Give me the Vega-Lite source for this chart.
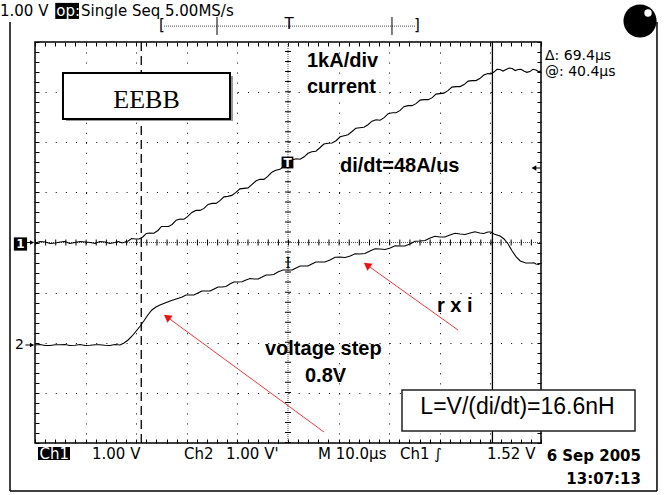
{
 "$schema": "https://vega.github.io/schema/vega-lite/v6.json",
 "width": 506, "height": 401,
 "autosize": {"type": "none"},
 "padding": {"left": 35, "top": 42, "right": 126, "bottom": 52},
 "background": "white",
 "config": {"view": {"stroke": "black", "strokeWidth": 1.5, "fill": "white"}},
 "data": {"values": [{}]},
 "datasets": {
  "ch1": [{"t":-50.0,"v":-0.01},{"t":-49.0,"v":0.02},{"t":-48.0,"v":0.01},{"t":-47.0,"v":-0.02},{"t":-46.0,"v":-0.01},{"t":-45.0,"v":0.01},{"t":-44.1,"v":0.02},{"t":-43.1,"v":-0.02},{"t":-42.1,"v":0.0},{"t":-41.1,"v":0.02},{"t":-40.1,"v":0.01},{"t":-39.1,"v":0.0},{"t":-38.1,"v":-0.02},{"t":-37.2,"v":0.02},{"t":-36.2,"v":0.01},{"t":-35.2,"v":-0.02},{"t":-34.2,"v":0.0},{"t":-33.5,"v":0.02},{"t":-32.8,"v":-0.01},{"t":-31.6,"v":0.03},{"t":-30.9,"v":0.08},{"t":-30.2,"v":0.07},{"t":-29.45,"v":0.07},{"t":-28.7,"v":0.11},{"t":-28.0,"v":0.18},{"t":-27.3,"v":0.19},{"t":-26.5,"v":0.185},{"t":-25.7,"v":0.24},{"t":-25.0,"v":0.32},{"t":-24.3,"v":0.32},{"t":-23.6,"v":0.32},{"t":-22.9,"v":0.36},{"t":-22.1,"v":0.445},{"t":-21.3,"v":0.47},{"t":-20.55,"v":0.465},{"t":-19.8,"v":0.52},{"t":-19.0,"v":0.60},{"t":-18.2,"v":0.64},{"t":-17.4,"v":0.64},{"t":-16.6,"v":0.68},{"t":-15.8,"v":0.76},{"t":-15.0,"v":0.78},{"t":-14.2,"v":0.78},{"t":-13.4,"v":0.84},{"t":-12.65,"v":0.91},{"t":-11.9,"v":0.92},{"t":-11.1,"v":0.94},{"t":-10.3,"v":1.0},{"t":-9.5,"v":1.07},{"t":-8.7,"v":1.08},{"t":-7.9,"v":1.09},{"t":-7.1,"v":1.16},{"t":-6.3,"v":1.23},{"t":-5.5,"v":1.26},{"t":-4.75,"v":1.26},{"t":-4.0,"v":1.32},{"t":-3.2,"v":1.40},{"t":-2.4,"v":1.44},{"t":-1.6,"v":1.46},{"t":-0.8,"v":1.52},{"t":0.0,"v":1.58},{"t":0.8,"v":1.645},{"t":1.6,"v":1.67},{"t":2.4,"v":1.66},{"t":3.2,"v":1.71},{"t":3.95,"v":1.78},{"t":4.7,"v":1.81},{"t":5.5,"v":1.82},{"t":6.3,"v":1.89},{"t":7.1,"v":1.965},{"t":7.9,"v":1.98},{"t":8.7,"v":1.985},{"t":9.5,"v":2.03},{"t":10.3,"v":2.11},{"t":11.1,"v":2.13},{"t":11.85,"v":2.15},{"t":12.6,"v":2.21},{"t":13.4,"v":2.28},{"t":14.2,"v":2.29},{"t":15.0,"v":2.30},{"t":15.8,"v":2.35},{"t":16.6,"v":2.42},{"t":17.4,"v":2.45},{"t":18.2,"v":2.44},{"t":19.0,"v":2.49},{"t":19.8,"v":2.57},{"t":20.6,"v":2.59},{"t":21.35,"v":2.59},{"t":22.1,"v":2.63},{"t":22.9,"v":2.71},{"t":23.7,"v":2.73},{"t":24.5,"v":2.73},{"t":25.3,"v":2.77},{"t":26.1,"v":2.84},{"t":26.9,"v":2.85},{"t":27.7,"v":2.85},{"t":28.5,"v":2.89},{"t":29.25,"v":2.96},{"t":30.0,"v":2.97},{"t":30.8,"v":2.98},{"t":31.6,"v":3.03},{"t":32.4,"v":3.10},{"t":33.2,"v":3.11},{"t":34.0,"v":3.11},{"t":34.8,"v":3.15},{"t":35.6,"v":3.22},{"t":36.4,"v":3.23},{"t":37.15,"v":3.23},{"t":37.9,"v":3.27},{"t":38.7,"v":3.34},{"t":39.5,"v":3.37},{"t":40.1,"v":3.365},{"t":40.7,"v":3.40},{"t":41.3,"v":3.455},{"t":41.9,"v":3.45},{"t":42.5,"v":3.42},{"t":43.1,"v":3.45},{"t":43.7,"v":3.48},{"t":44.3,"v":3.47},{"t":44.9,"v":3.43},{"t":45.5,"v":3.45},{"t":46.05,"v":3.455},{"t":46.6,"v":3.42},{"t":47.2,"v":3.395},{"t":47.8,"v":3.41},{"t":48.4,"v":3.455},{"t":49.0,"v":3.44},{"t":49.5,"v":3.41},{"t":50.0,"v":3.42}],
  "ch2": [{"t":-50.0,"v":-2.045},{"t":-49.0,"v":-2.035},{"t":-48.0,"v":-2.055},{"t":-47.0,"v":-2.055},{"t":-46.0,"v":-2.04},{"t":-45.0,"v":-2.04},{"t":-44.1,"v":-2.035},{"t":-43.1,"v":-2.055},{"t":-42.1,"v":-2.05},{"t":-41.1,"v":-2.035},{"t":-40.1,"v":-2.055},{"t":-39.1,"v":-2.05},{"t":-38.1,"v":-2.04},{"t":-37.2,"v":-2.04},{"t":-36.2,"v":-2.05},{"t":-35.2,"v":-2.055},{"t":-34.2,"v":-2.035},{"t":-33.2,"v":-2.045},{"t":-32.4,"v":-2.005},{"t":-31.6,"v":-1.945},{"t":-30.8,"v":-1.865},{"t":-30.0,"v":-1.766},{"t":-29.2,"v":-1.666},{"t":-28.5,"v":-1.566},{"t":-27.7,"v":-1.446},{"t":-26.9,"v":-1.347},{"t":-26.1,"v":-1.287},{"t":-25.3,"v":-1.247},{"t":-24.3,"v":-1.207},{"t":-23.3,"v":-1.167},{"t":-22.1,"v":-1.127},{"t":-20.9,"v":-1.087},{"t":-20.15,"v":-1.047},{"t":-19.4,"v":-1.047},{"t":-18.6,"v":-1.047},{"t":-17.8,"v":-1.007},{"t":-17.0,"v":-0.968},{"t":-16.2,"v":-0.968},{"t":-15.4,"v":-0.968},{"t":-14.6,"v":-0.928},{"t":-13.8,"v":-0.888},{"t":-13.0,"v":-0.888},{"t":-12.25,"v":-0.878},{"t":-11.5,"v":-0.828},{"t":-10.7,"v":-0.788},{"t":-9.9,"v":-0.788},{"t":-9.1,"v":-0.783},{"t":-8.3,"v":-0.748},{"t":-7.5,"v":-0.718},{"t":-6.7,"v":-0.728},{"t":-5.9,"v":-0.728},{"t":-5.1,"v":-0.688},{"t":-4.35,"v":-0.648},{"t":-3.6,"v":-0.648},{"t":-2.8,"v":-0.639},{"t":-2.0,"v":-0.589},{"t":-1.0,"v":-0.549},{"t":0.0,"v":-0.549},{"t":0.8,"v":-0.549},{"t":1.6,"v":-0.509},{"t":2.4,"v":-0.469},{"t":3.2,"v":-0.469},{"t":3.95,"v":-0.469},{"t":4.7,"v":-0.429},{"t":5.5,"v":-0.389},{"t":6.3,"v":-0.389},{"t":7.3,"v":-0.389},{"t":8.3,"v":-0.349},{"t":9.3,"v":-0.294},{"t":10.3,"v":-0.289},{"t":11.3,"v":-0.299},{"t":12.3,"v":-0.269},{"t":13.25,"v":-0.224},{"t":14.2,"v":-0.229},{"t":15.2,"v":-0.22},{"t":16.2,"v":-0.170},{"t":17.2,"v":-0.125},{"t":18.2,"v":-0.130},{"t":19.2,"v":-0.14},{"t":20.2,"v":-0.110},{"t":21.15,"v":-0.065},{"t":22.1,"v":-0.070},{"t":23.1,"v":-0.07},{"t":24.1,"v":-0.030},{"t":25.1,"v":0.025},{"t":26.1,"v":0.030},{"t":27.1,"v":0.04},{"t":28.1,"v":0.090},{"t":29.05,"v":0.125},{"t":30.0,"v":0.110},{"t":31.0,"v":0.11},{"t":32.0,"v":0.150},{"t":33.0,"v":0.185},{"t":34.0,"v":0.170},{"t":35.0,"v":0.16},{"t":36.0,"v":0.190},{"t":36.95,"v":0.215},{"t":37.9,"v":0.19},{"t":38.7,"v":0.18},{"t":39.5,"v":0.209},{"t":40.1,"v":0.21},{"t":40.7,"v":0.17},{"t":41.9,"v":0.13},{"t":42.7,"v":0.07},{"t":43.5,"v":-0.03},{"t":44.3,"v":-0.17},{"t":45.1,"v":-0.289},{"t":45.9,"v":-0.369},{"t":47.0,"v":-0.409},{"t":48.2,"v":-0.409},{"t":48.6,"v":-0.404},{"t":49.0,"v":-0.429},{"t":49.5,"v":-0.439},{"t":50.0,"v":-0.409}],
  "scopeText": [{"label":"1.00 V","t":-56.92,"v":4.62},{"label":"Single Seq","t":-40.91,"v":4.62},{"label":"5.00MS/s","t":-24.31,"v":4.62},{"label":"1.00 V","t":-38.74,"v":-4.21},{"label":"Ch2","t":-20.55,"v":-4.21},{"label":"1.00 V'","t":-12.25,"v":-4.21},{"label":"M 10.0µs","t":5.93,"v":-4.21},{"label":"Ch1 ∫","t":22.13,"v":-4.21},{"label":"1.52 V","t":39.33,"v":-4.21}],
  "cursorText": [{"label":"Δ: 69.4µs","t":50.79,"v":3.73},{"label":"@: 40.4µs","t":50.79,"v":3.41}],
  "dateText": [{"label":"6 Sep 2005","t":69.76,"v":-4.26},{"label":"13:07:13","t":69.76,"v":-4.72}],
  "boldText": [{"label":"1kA/div","t":3.75,"v":3.501},{"label":"current","t":3.75,"v":2.983},{"label":"di/dt=48A/us","t":10.28,"v":1.406},{"label":"r x i","t":29.45,"v":-1.387},{"label":"voltage step","t":-4.55,"v":-2.244},{"label":"0.8V","t":3.36,"v":-2.783}],
  "redLines": [{"t":7.11,"v":-3.781,"t2":-23.91,"v2":-1.486},{"t":33.6,"v":-1.746,"t2":15.61,"v2":-0.449}],
  "redHeads": [{"t":-23.91,"v":-1.486},{"t":15.61,"v":-0.449}],
  "frame": [{"t":-54.94,"v":4.40,"t2":-54.94,"v2":-4.96},{"t":-54.94,"v":-4.96,"t2":72.92,"v2":-4.96},{"t":72.92,"v":4.40,"t2":72.92,"v2":-4.96}],
  "blackBoxes": [{"t":-46.0,"t2":-41.3,"v":4.78,"v2":4.46},{"t":-49.41,"t2":-43.08,"v":-4.08,"v2":-4.34}],
  "whiteText": [{"label":"op:","t":-45.8,"v":4.62},{"label":"Ch1","t":-49.1,"v":-4.21}]
 },
 "resolve": {"axis": {"x": "independent", "y": "independent"}},
 "layer": [
  {"data": {"values": [{"t":0,"v":-4,"v2":4}]}, "mark": {"type":"rule","color":"#555","strokeDash":[1,1],"strokeWidth":1},
   "encoding": {"x":{"field":"t","type":"quantitative","axis":null},"y":{"field":"v","type":"quantitative","axis":null},"y2":{"field":"v2"}}},
  {"data": {"values": [{"t":0,"v":-4,"v2":4}]}, "mark": {"type":"rule","color":"black","strokeDash":[1,9.025],"strokeWidth":6},
   "encoding": {"x":{"field":"t","type":"quantitative","axis":null},"y":{"field":"v","type":"quantitative","axis":null},"y2":{"field":"v2"}}},
  {"data": {"values": [{"t":-50,"t2":50,"v":0}]}, "mark": {"type":"rule","color":"#555","strokeDash":[1,1],"strokeWidth":1},
   "encoding": {"x":{"field":"t","type":"quantitative","axis":null},"x2":{"field":"t2"},"y":{"field":"v","type":"quantitative","axis":null}}},
  {"data": {"values": [{"t":-50,"t2":50,"v":0}]}, "mark": {"type":"rule","color":"black","strokeDash":[1,9.12],"strokeWidth":6},
   "encoding": {"x":{"field":"t","type":"quantitative","axis":null},"x2":{"field":"t2"},"y":{"field":"v","type":"quantitative","axis":null}}},
  {"data": {"values": [{"t":-29.0,"v":-4,"v2":4}]}, "mark": {"type":"rule","color":"black","strokeDash":[9,5],"strokeWidth":1.3},
   "encoding": {"x":{"field":"t","type":"quantitative","axis":null},"y":{"field":"v","type":"quantitative","axis":null},"y2":{"field":"v2"}}},
  {"data": {"values": [{"t":40.4,"v":-4,"v2":4}]}, "mark": {"type":"rule","color":"black","strokeWidth":1.3},
   "encoding": {"x":{"field":"t","type":"quantitative","axis":null},"y":{"field":"v","type":"quantitative","axis":null},"y2":{"field":"v2"}}},
  {"data": {"name": "ch1"}, "mark": {"type":"line","color":"black","strokeWidth":1.1},
   "encoding": {
    "x":{"field":"t","type":"quantitative","scale":{"domain":[-50,50],"nice":false,"zero":false},
     "axis":{"orient":"bottom","values":[-50,-48,-46,-44,-42,-40,-38,-36,-34,-32,-30,-28,-26,-24,-22,-20,-18,-16,-14,-12,-10,-8,-6,-4,-2,0,2,4,6,8,10,12,14,16,18,20,22,24,26,28,30,32,34,36,38,40,42,44,46,48,50],
      "grid":true,"gridColor":"black","gridWidth":1,"gridDash":[1,9.025],
      "gridOpacity":{"condition":{"test":"abs(datum.value % 10) < 0.001 && datum.value !== 0 && abs(datum.value) < 49","value":1},"value":0},
      "ticks":true,"tickSize":-4,"tickColor":"black","tickWidth":1,"labels":false,"domain":false,"title":null}},
    "y":{"field":"v","type":"quantitative","scale":{"domain":[-4,4],"nice":false,"zero":false},
     "axis":{"orient":"left","values":[-4,-3.8,-3.6,-3.4,-3.2,-3,-2.8,-2.6,-2.4,-2.2,-2,-1.8,-1.6,-1.4,-1.2,-1,-0.8,-0.6,-0.4,-0.2,0,0.2,0.4,0.6,0.8,1,1.2,1.4,1.6,1.8,2,2.2,2.4,2.6,2.8,3,3.2,3.4,3.6,3.8,4],
      "grid":true,"gridColor":"black","gridWidth":1,"gridDash":[1,9.12],
      "gridOpacity":{"condition":{"test":"abs(datum.value - round(datum.value)) < 0.001 && datum.value !== 0 && abs(datum.value) < 3.9","value":1},"value":0},
      "ticks":true,"tickSize":-4,"tickColor":"black","tickWidth":1,"labels":false,"domain":false,"title":null}}}},
  {"data": {"name": "ch2"}, "mark": {"type":"line","color":"black","strokeWidth":1.1},
   "encoding": {
    "x":{"field":"t","type":"quantitative",
     "axis":{"orient":"top","values":[-50,-48,-46,-44,-42,-40,-38,-36,-34,-32,-30,-28,-26,-24,-22,-20,-18,-16,-14,-12,-10,-8,-6,-4,-2,0,2,4,6,8,10,12,14,16,18,20,22,24,26,28,30,32,34,36,38,40,42,44,46,48,50],
      "grid":false,"ticks":true,"tickSize":-4,"tickColor":"black","tickWidth":1,"labels":false,"domain":false,"title":null}},
    "y":{"field":"v","type":"quantitative",
     "axis":{"orient":"right","values":[-4,-3.8,-3.6,-3.4,-3.2,-3,-2.8,-2.6,-2.4,-2.2,-2,-1.8,-1.6,-1.4,-1.2,-1,-0.8,-0.6,-0.4,-0.2,0,0.2,0.4,0.6,0.8,1,1.2,1.4,1.6,1.8,2,2.2,2.4,2.6,2.8,3,3.2,3.4,3.6,3.8,4],
      "grid":false,"ticks":true,"tickSize":-4,"tickColor":"black","tickWidth":1,"labels":false,"domain":false,"title":null}}}},
  {"data": {"values": [{"t":-43.87,"t2":-10.87,"v":3.322,"v2":2.424}]}, "mark": {"type":"rect","fill":"#999999"},
   "encoding": {"x":{"field":"t","type":"quantitative","axis":null},"x2":{"field":"t2"},"y":{"field":"v","type":"quantitative","axis":null},"y2":{"field":"v2"}}},
  {"data": {"values": [{"t":-44.47,"t2":-11.46,"v":3.382,"v2":2.464}]}, "mark": {"type":"rect","fill":"white","stroke":"black","strokeWidth":2},
   "encoding": {"x":{"field":"t","type":"quantitative","axis":null},"x2":{"field":"t2"},"y":{"field":"v","type":"quantitative","axis":null},"y2":{"field":"v2"}}},
  {"data": {"values": [{"t":22.53,"t2":68.58,"v":-2.943,"v2":-3.761}]}, "mark": {"type":"rect","fill":"white","stroke":"#222","strokeWidth":1.5},
   "encoding": {"x":{"field":"t","type":"quantitative","axis":null},"x2":{"field":"t2"},"y":{"field":"v","type":"quantitative","axis":null},"y2":{"field":"v2"}}},
  {"data": {"values": [{"label":"EEBB","t":-27.96,"v":2.683}]}, "mark": {"type":"text","font":"Liberation Serif","fontSize":26,"align":"center","baseline":"alphabetic","color":"black"},
   "encoding": {"x":{"field":"t","type":"quantitative","axis":null},"y":{"field":"v","type":"quantitative","axis":null},"text":{"field":"label"}}},
  {"data": {"values": [{"label":"L=V/(di/dt)=16.6nH","t":45.36,"v":-3.43}]}, "mark": {"type":"text","font":"Liberation Sans","fontSize":23,"align":"center","baseline":"alphabetic","color":"black"},
   "encoding": {"x":{"field":"t","type":"quantitative","axis":null},"y":{"field":"v","type":"quantitative","axis":null},"text":{"field":"label"}}},
  {"data": {"name": "boldText"}, "mark": {"type":"text","font":"Liberation Sans","fontWeight":"bold","fontSize":20,"align":"left","baseline":"alphabetic","color":"black"},
   "encoding": {"x":{"field":"t","type":"quantitative","axis":null},"y":{"field":"v","type":"quantitative","axis":null},"text":{"field":"label"}}},
  {"data": {"name": "redLines"}, "mark": {"type":"rule","color":"#ee3a3a","strokeWidth":1},
   "encoding": {"x":{"field":"t","type":"quantitative","axis":null},"x2":{"field":"t2"},"y":{"field":"v","type":"quantitative","axis":null},"y2":{"field":"v2"}}},
  {"data": {"name": "redHeads"}, "mark": {"type":"point","shape":"triangle-up","filled":true,"size":75,"angle":306,"color":"#ee1111","opacity":1},
   "encoding": {"x":{"field":"t","type":"quantitative","axis":null},"y":{"field":"v","type":"quantitative","axis":null}}},
  {"data": {"name": "frame"}, "mark": {"type":"rule","color":"black","strokeWidth":1.5},
   "encoding": {"x":{"field":"t","type":"quantitative","axis":null},"x2":{"field":"t2"},"y":{"field":"v","type":"quantitative","axis":null},"y2":{"field":"v2"}}},
  {"data": {"name": "blackBoxes"}, "mark": {"type":"rect","fill":"black"},
   "encoding": {"x":{"field":"t","type":"quantitative","axis":null},"x2":{"field":"t2"},"y":{"field":"v","type":"quantitative","axis":null},"y2":{"field":"v2"}}},
  {"data": {"name": "whiteText"}, "mark": {"type":"text","font":"DejaVu Sans","fontSize":15,"align":"left","baseline":"middle","color":"white"},
   "encoding": {"x":{"field":"t","type":"quantitative","axis":null},"y":{"field":"v","type":"quantitative","axis":null},"text":{"field":"label"}}},
  {"data": {"name": "scopeText"}, "mark": {"type":"text","font":"DejaVu Sans","fontSize":15,"align":"left","baseline":"middle","color":"black"},
   "encoding": {"x":{"field":"t","type":"quantitative","axis":null},"y":{"field":"v","type":"quantitative","axis":null},"text":{"field":"label"}}},
  {"data": {"name": "cursorText"}, "mark": {"type":"text","font":"DejaVu Sans","fontSize":14,"align":"left","baseline":"middle","color":"black"},
   "encoding": {"x":{"field":"t","type":"quantitative","axis":null},"y":{"field":"v","type":"quantitative","axis":null},"text":{"field":"label"}}},
  {"data": {"name": "dateText"}, "mark": {"type":"text","font":"DejaVu Sans","fontWeight":"bold","fontSize":15,"align":"right","baseline":"middle","color":"black"},
   "encoding": {"x":{"field":"t","type":"quantitative","axis":null},"y":{"field":"v","type":"quantitative","axis":null},"text":{"field":"label"}}},
  {"data": {"values": [{"t":69.57,"v":4.419}]}, "mark": {"type":"point","shape":"circle","filled":true,"size":1100,"color":"black","opacity":1},
   "encoding": {"x":{"field":"t","type":"quantitative","axis":null},"y":{"field":"v","type":"quantitative","axis":null}}},
  {"data": {"values": [{"t":71.15,"v":4.579}]}, "mark": {"type":"point","shape":"circle","filled":true,"size":55,"color":"white","opacity":1},
   "encoding": {"x":{"field":"t","type":"quantitative","axis":null},"y":{"field":"v","type":"quantitative","axis":null}}},
  {"data": {"values": [{"t":-24.5,"t2":25.1,"v":4.317}]}, "mark": {"type":"rule","color":"#444","strokeDash":[1,1],"strokeWidth":1},
   "encoding": {"x":{"field":"t","type":"quantitative","axis":null},"x2":{"field":"t2"},"y":{"field":"v","type":"quantitative","axis":null}}},
  {"data": {"values": [{"t":-14.03,"v":4.499,"v2":4.14},{"t":20.55,"v":4.499,"v2":4.14}]}, "mark": {"type":"rule","color":"black","strokeWidth":1},
   "encoding": {"x":{"field":"t","type":"quantitative","axis":null},"y":{"field":"v","type":"quantitative","axis":null},"y2":{"field":"v2"}}},
  {"data": {"values": [{"label":"[","t":-24.9,"v":4.33},{"label":"]","t":25.5,"v":4.33},{"label":"T","t":0.2,"v":4.36}]}, "mark": {"type":"text","font":"DejaVu Sans","fontSize":15,"align":"center","baseline":"middle","color":"black"},
   "encoding": {"x":{"field":"t","type":"quantitative","axis":null},"y":{"field":"v","type":"quantitative","axis":null},"text":{"field":"label"}}},
  {"data": {"values": [{"t":-52.87,"v":-0.03}]}, "mark": {"type":"point","shape":"square","filled":true,"size":175,"color":"black","opacity":1},
   "encoding": {"x":{"field":"t","type":"quantitative","axis":null},"y":{"field":"v","type":"quantitative","axis":null}}},
  {"data": {"values": [{"t":-0.1,"v":1.596}]}, "mark": {"type":"point","shape":"square","filled":true,"size":140,"color":"black","opacity":1},
   "encoding": {"x":{"field":"t","type":"quantitative","axis":null},"y":{"field":"v","type":"quantitative","axis":null}}},
  {"data": {"values": [{"label":"1","t":-52.87,"v":-0.03},{"label":"T","t":-0.1,"v":1.596}]}, "mark": {"type":"text","font":"DejaVu Sans","fontWeight":"bold","fontSize":12,"align":"center","baseline":"middle","color":"white"},
   "encoding": {"x":{"field":"t","type":"quantitative","axis":null},"y":{"field":"v","type":"quantitative","axis":null},"text":{"field":"label"}}},
  {"data": {"values": [{"label":"2","t":-53.06,"v":-2.045}]}, "mark": {"type":"text","font":"DejaVu Sans","fontSize":14,"align":"center","baseline":"middle","color":"black"},
   "encoding": {"x":{"field":"t","type":"quantitative","axis":null},"y":{"field":"v","type":"quantitative","axis":null},"text":{"field":"label"}}},
  {"data": {"values": [{"label":"I","t":0,"v":-0.43}]}, "mark": {"type":"text","font":"DejaVu Serif","fontSize":14,"align":"center","baseline":"middle","color":"black"},
   "encoding": {"x":{"field":"t","type":"quantitative","axis":null},"y":{"field":"v","type":"quantitative","axis":null},"text":{"field":"label"}}},
  {"data": {"values": [{"t":-51.6,"t2":-50.3,"v":0},{"t":-51.9,"t2":-50.3,"v":-2.045},{"t":48.6,"t2":50,"v":1.486}]}, "mark": {"type":"rule","color":"black","strokeWidth":1},
   "encoding": {"x":{"field":"t","type":"quantitative","axis":null},"x2":{"field":"t2"},"y":{"field":"v","type":"quantitative","axis":null}}},
  {"data": {"values": [{"t":-50.6,"v":0},{"t":-50.6,"v":-2.045}]}, "mark": {"type":"point","shape":"triangle-right","filled":true,"size":22,"color":"black","opacity":1},
   "encoding": {"x":{"field":"t","type":"quantitative","axis":null},"y":{"field":"v","type":"quantitative","axis":null}}},
  {"data": {"values": [{"t":48.6,"v":1.486}]}, "mark": {"type":"point","shape":"triangle-left","filled":true,"size":30,"color":"black","opacity":1},
   "encoding": {"x":{"field":"t","type":"quantitative","axis":null},"y":{"field":"v","type":"quantitative","axis":null}}}
 ]
}
